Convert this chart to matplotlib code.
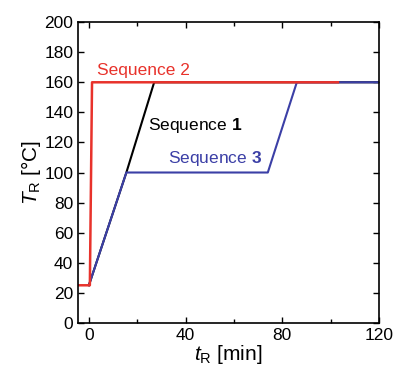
import matplotlib.pyplot as plt
from matplotlib.ticker import MultipleLocator

plt.rcParams['font.family'] = ['Liberation Sans', 'DejaVu Sans']
plt.rcParams['mathtext.fontset'] = 'custom'
plt.rcParams['mathtext.rm'] = 'Liberation Sans'
plt.rcParams['mathtext.it'] = 'Liberation Sans:italic'
plt.rcParams['mathtext.bf'] = 'Liberation Sans:bold'

# temperature programmes (time in min, temperature in degC)
seq1_t = [0, 15.5, 27, 120]
seq1_T = [25, 100, 160, 160]
seq3_t = [0, 15.5, 74, 86, 120]
seq3_T = [25, 100, 100, 160, 160]
seq2_t = [-5, 0.4, 1.3, 103]
seq2_T = [25, 25, 160, 160]

red = '#e8322b'
blue = '#3b3fa6'

fig = plt.figure(figsize=(3.94, 3.69), dpi=100)
ax = fig.add_axes([0.198, 0.125, 0.764, 0.815])

ax.plot(seq1_t, seq1_T, color='black', lw=1.5)
ax.plot(seq3_t, seq3_T, color=blue, lw=1.5)
ax.plot(seq2_t, seq2_T, color=red, lw=1.8)

ax.text(3.3, 168, 'Sequence 2', color=red, fontsize=12.5, va='center')
ax.text(24.5, 131.5, r'Sequence $\mathbf{1}$', color='black', fontsize=12.5, va='center')
ax.text(32.8, 109.5, r'Sequence $\mathbf{3}$', color=blue, fontsize=12.5, va='center')

ax.set_xlim(-4.5, 120)
ax.set_ylim(0, 200)
ax.xaxis.set_major_locator(MultipleLocator(40))
ax.xaxis.set_minor_locator(MultipleLocator(20))
ax.yaxis.set_major_locator(MultipleLocator(20))
ax.tick_params(which='both', direction='in', top=True, right=True, labelsize=12.5, width=1)
ax.tick_params(which='major', length=4)
ax.tick_params(which='minor', length=3)
for s in ax.spines.values():
    s.set_linewidth(1.2)

ax.set_xlabel(r'$t_\mathrm{R}$ [min]', fontsize=15, labelpad=0)
ax.set_ylabel(r'$T_\mathrm{R}$ [°C]', fontsize=15, labelpad=1)

fig.savefig('out.png', dpi=100)
